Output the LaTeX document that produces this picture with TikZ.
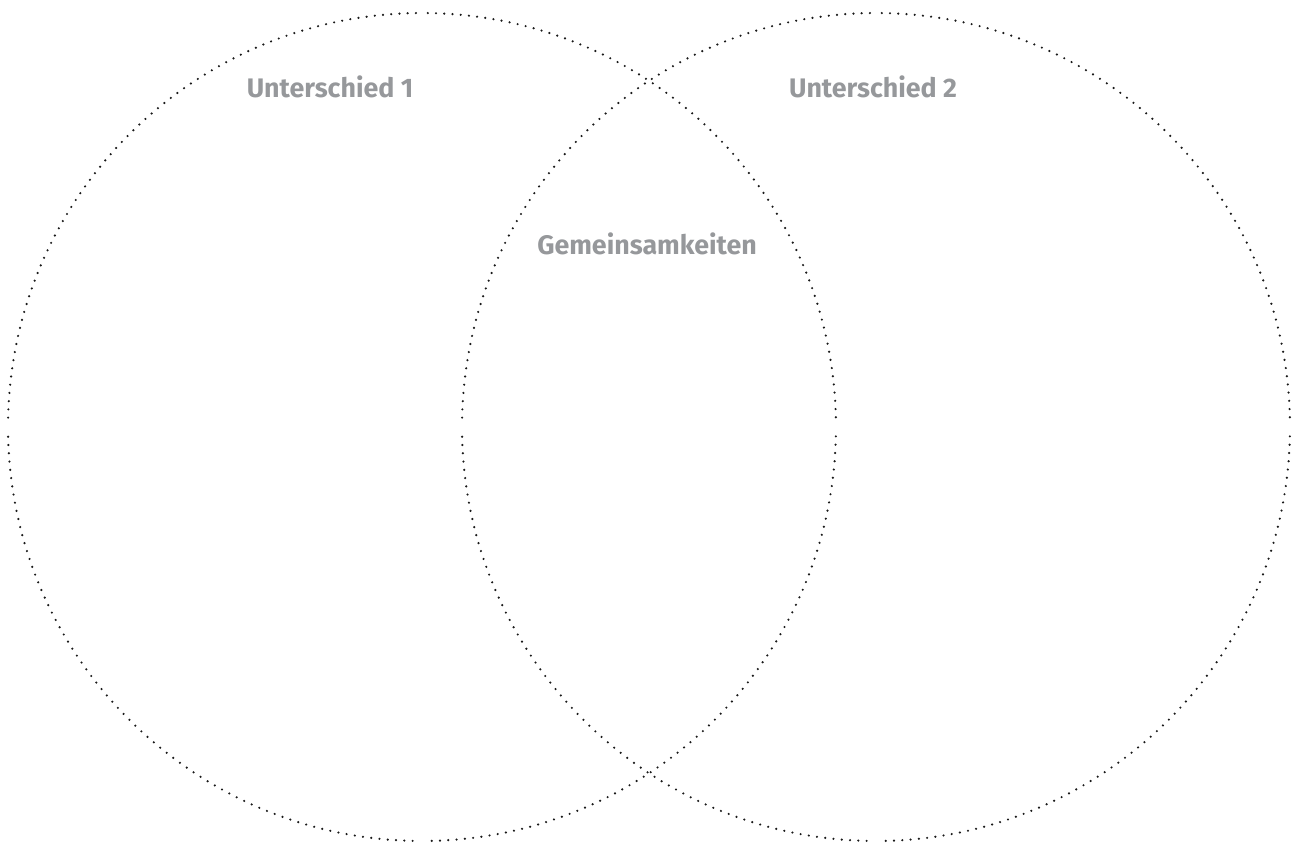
\documentclass[tikz,border=0pt]{standalone}
\usepackage{fontspec}
\setmainfont{Fira Sans}
\definecolor{lbl}{HTML}{96989B}
\tikzset{
  dotline/.style={line width=2.4pt, line cap=round, dash pattern=on 0pt off #1, black!90},
  dotline/.default=8.3pt,
  label/.style={font=\fontsize{26.8}{30}\selectfont\bfseries, text=lbl, anchor=base},
}
\begin{document}
\begin{tikzpicture}[x=1pt,y=-1pt]
\useasboundingbox (0,0) rectangle (1293,843);
\coordinate (c1) at (422,427);
\coordinate (c2) at (876,427);
\foreach \c in {c1,c2}{
  \draw[dotline=8.306pt] (\c) ++(1.3:414) arc[start angle=1.3, end angle=88.7, radius=414];
  \draw[dotline=8.306pt] (\c) ++(91.3:414) arc[start angle=91.3, end angle=178.7, radius=414];
  \draw[dotline=8.245pt] (\c) ++(181.3:414) arc[start angle=181.3, end angle=269.2, radius=414];
  \draw[dotline=8.245pt] (\c) ++(270.8:414) arc[start angle=270.8, end angle=358.7, radius=414];
}
\node[label] (u1) at (330,97) {Unterschied 1};
\node[label] (u2) at (873,97) {Unterschied 2};
\node[label] (g) at (647,254) {Gemeinsamkeiten};
\end{tikzpicture}
\end{document}
